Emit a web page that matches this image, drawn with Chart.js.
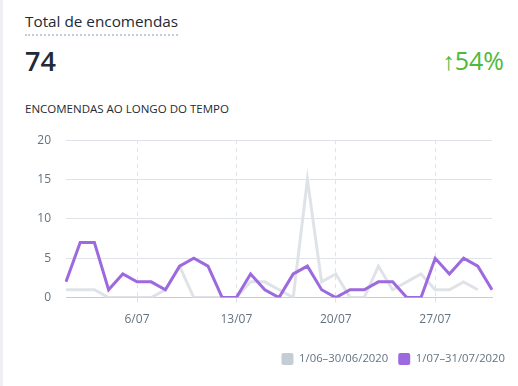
<!DOCTYPE html>
<html>
<head>
<meta charset="utf-8">
<script src="https://cdn.jsdelivr.net/npm/chart.js@4.4.1/dist/chart.umd.min.js"></script>
<style>
  body { margin:0; background:#fff; font-family:"Open Sans", sans-serif; }
  .card { position:relative; width:518px; height:386px; overflow:hidden; border-left:3px solid #eef0f3; box-sizing:border-box; }
  .title { position:absolute; left:22px; top:10px; font-size:15.3px; color:#212b36; border-bottom:2px dotted #c4cdd5; line-height:22px; padding-bottom:2px; }
  .total { position:absolute; left:22px; top:42px; font-size:27px; font-weight:600; color:#212b36; }
  .pct { position:absolute; right:14px; top:43px; font-size:25px; color:#50b83c; }
  .sub { position:absolute; left:22px; top:101px; font-size:11.5px; color:#212b36; }
  #wrap { position:absolute; left:-3px; top:118px; width:518px; height:257px; }
</style>
</head>
<body>
<div class="card">
  <div class="title">Total de encomendas</div>
  <div class="total">74</div>
  <div class="pct">↑54%</div>
  <div class="sub">ENCOMENDAS AO LONGO DO TEMPO</div>
  <div id="wrap"><canvas id="myChart"></canvas></div>
</div>
<script>
// days of july
const days = ["1/07","2/07","3/07","4/07","5/07","6/07","7/07","8/07","9/07","10/07","11/07","12/07","13/07","14/07","15/07","16/07","17/07","18/07","19/07","20/07","21/07","22/07","23/07","24/07","25/07","26/07","27/07","28/07","29/07","30/07","31/07"];
const shownTicks = ["6/07","13/07","20/07","27/07"];

// june (previous period)
const june = [1,1,1,0,0,0,0,1,4,0,0,0,0,2,2,1,0,15,2,3,0,0,4,1,2,3,1,1,2,1];
// july
const july = [2,7,7,1,3,2,2,1,4,5,4,0,0,3,1,0,3,4,1,0,1,1,2,2,0,0,5,3,5,4,1];

const juneLabel = "1/06–30/06/2020";
const julyLabel = "1/07–31/07/2020";

const ctx = document.getElementById('myChart').getContext('2d');
const myChart = new Chart(ctx, {
  type: 'line',
  data: {
    labels: days,
    datasets: [
      { label: juneLabel, data: june, order: 2, borderColor: '#dfe3e8', backgroundColor: '#c4cdd5', borderWidth: 3, pointRadius: 0, tension: 0 },
      { label: julyLabel, data: july, order: 1, borderColor: '#9c6ade', backgroundColor: '#9c6ade', borderWidth: 3, pointRadius: 0, tension: 0 }
    ]
  },
  options: {
    responsive: true,
    maintainAspectRatio: false,
    animation: false,
    layout: { padding: { left: 0, right: 3, top: 1, bottom: 0 } },
    plugins: {
      tooltip: { enabled: false },
      legend: {
        position: 'bottom',
        align: 'end',
        labels: {
          boxWidth: 12, boxHeight: 12, useBorderRadius: true, borderRadius: 2,
          color: '#637381', font: { family: 'Open Sans', size: 11.3 }, padding: 10,
          generateLabels: function (chart) {
            return chart.data.datasets.map(function (ds, i) {
              return { text: ds.label, fillStyle: ds.backgroundColor, strokeStyle: ds.backgroundColor, lineWidth: 0, borderRadius: 2, datasetIndex: i, fontColor: '#637381' };
            });
          }
        }
      }
    },
    scales: {
      x: {
        offset: false,
        afterFit: function (s) { s.height += 6; },
        grid: {
          color: function (c) { return shownTicks.includes(days[c.index]) ? '#dfe3e8' : 'rgba(0,0,0,0)'; },
          drawTicks: true, tickLength: 5
        },
        border: { display: true, color: '#c3cbe6', dash: [4, 4] },
        ticks: {
          autoSkip: false, maxRotation: 0, padding: 10,
          color: '#637381', font: { family: 'Open Sans', size: 12 },
          callback: function (v, i) { return shownTicks.includes(days[i]) ? days[i] : ''; }
        }
      },
      y: {
        min: 0, max: 20,
        afterFit: function (s) { s.width = 66; },
        grid: {
          color: function (c) { return c.tick.value === 0 ? '#c3cbe6' : '#dfe3e8'; },
          drawTicks: false
        },
        border: { display: false },
        ticks: { stepSize: 5, padding: 15, color: '#637381', font: { family: 'Open Sans', size: 12 } }
      },
      yRight: {
        position: 'right',
        afterFit: function (s) { s.width = 23; },
        grid: { display: false },
        border: { display: false },
        ticks: { display: false }
      }
    }
  }
});
</script>
</body>
</html>
